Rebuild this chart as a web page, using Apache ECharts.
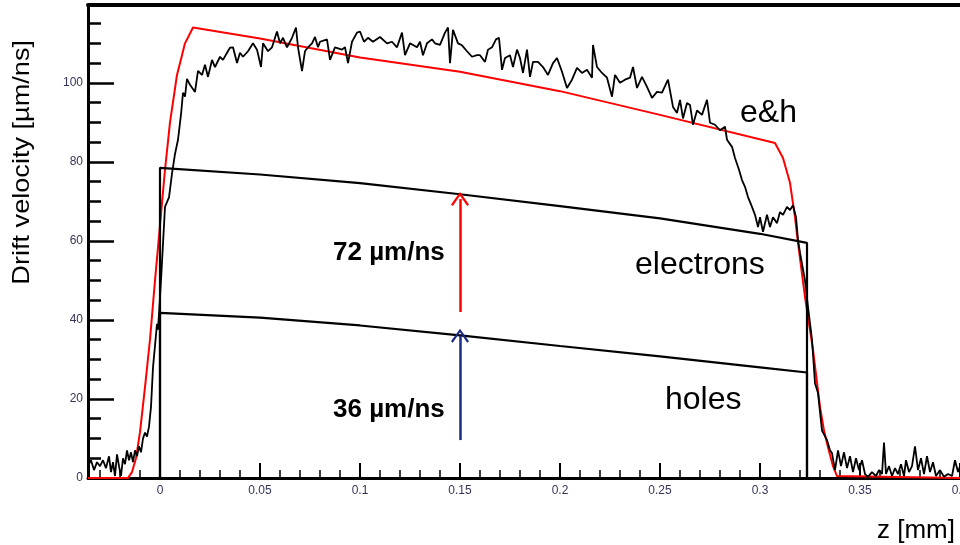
<!DOCTYPE html>
<html>
<head>
<meta charset="utf-8">
<style>
	html, body {
		margin: 0;
		padding: 0;
		background: #ffffff;
	}

	#main {
		width: 960px;
		height: 545px;
	}
</style>
</head>
<body>
<div id="main"></div>
<script src="https://cdn.jsdelivr.net/npm/echarts@6/dist/echarts.min.js"></script>
<script>
	// 测量曲线 (z [mm], drift velocity [µm/ns])
	var measZ = [
		-0.0360, -0.0345, -0.0330, -0.0315, -0.0300, -0.0285, -0.0270, -0.0255, -0.0245, -0.0235,
		-0.0225, -0.0215, -0.0205, -0.0195, -0.0185, -0.0175, -0.0165, -0.0155, -0.0145, -0.0135,
		-0.0125, -0.0115, -0.0105, -0.0095, -0.0085, -0.0075, -0.0065, -0.0055, -0.0045, -0.0035,
		-0.0015, -0.0010, 0.0005, 0.0025, 0.0045, 0.0060, 0.0075, 0.0090, 0.0105, 0.0115,
		0.0125, 0.0135, 0.0150, 0.0175, 0.0190, 0.0210, 0.0225, 0.0240, 0.0260, 0.0275,
		0.0300, 0.0315, 0.0335, 0.0350, 0.0365, 0.0385, 0.0400, 0.0415, 0.0440, 0.0465,
		0.0485, 0.0505, 0.0515, 0.0540, 0.0560, 0.0585, 0.0600, 0.0615, 0.0635, 0.0660,
		0.0680, 0.0690, 0.0710, 0.0725, 0.0740, 0.0760, 0.0775, 0.0790, 0.0800, 0.0835,
		0.0850, 0.0875, 0.0910, 0.0925, 0.0940, 0.0960, 0.0985, 0.1000, 0.1020, 0.1040,
		0.1065, 0.1100, 0.1135, 0.1160, 0.1185, 0.1210, 0.1225, 0.1250, 0.1285, 0.1300,
		0.1315, 0.1335, 0.1360, 0.1375, 0.1400, 0.1425, 0.1440, 0.1450, 0.1465, 0.1490,
		0.1510, 0.1535, 0.1560, 0.1585, 0.1600, 0.1625, 0.1640, 0.1660, 0.1680, 0.1695,
		0.1710, 0.1725, 0.1750, 0.1765, 0.1785, 0.1800, 0.1815, 0.1835, 0.1850, 0.1865,
		0.1890, 0.1915, 0.1940, 0.1965, 0.1985, 0.2010, 0.2035, 0.2060, 0.2085, 0.2110,
		0.2135, 0.2160, 0.2165, 0.2185, 0.2210, 0.2235, 0.2260, 0.2275, 0.2300, 0.2325,
		0.2350, 0.2365, 0.2385, 0.2410, 0.2435, 0.2460, 0.2485, 0.2510, 0.2540, 0.2565,
		0.2585, 0.2600, 0.2615, 0.2635, 0.2650, 0.2665, 0.2685, 0.2710, 0.2735, 0.2750,
		0.2775, 0.2800, 0.2825, 0.2835, 0.2860, 0.2875, 0.2895, 0.2910, 0.2925, 0.2940,
		0.2960, 0.2975, 0.2990, 0.3000, 0.3015, 0.3035, 0.3050, 0.3065, 0.3085, 0.3100,
		0.3115, 0.3135, 0.3150, 0.3165, 0.3180, 0.3190, 0.3200, 0.3225, 0.3240, 0.3260,
		0.3275, 0.3290, 0.3310, 0.3335, 0.3350, 0.3360, 0.3375, 0.3390, 0.3405, 0.3420,
		0.3435, 0.3450, 0.3465, 0.3480, 0.3495, 0.3510, 0.3525, 0.3540, 0.3560, 0.3580,
		0.3595, 0.3610, 0.3620, 0.3630, 0.3645, 0.3660, 0.3675, 0.3690, 0.3705, 0.3720,
		0.3730, 0.3745, 0.3760, 0.3775, 0.3790, 0.3805, 0.3820, 0.3835, 0.3850, 0.3865,
		0.3880, 0.3900, 0.3920, 0.3940, 0.3960, 0.3975, 0.3990, 0.4000
	];
	var measV = [
		3.0, 4.5, 2.0, 4.0, 3.0, 4.5, 2.5, 5.5, 1.5, 4.0,
		0.5, 6.0, 3.0, 0.5, 5.0, 3.5, 7.0, 4.5, 6.5, 4.0,
		7.0, 5.5, 8.0, 6.5, 10.0, 11.5, 10.5, 13.0, 18.0, 28.0,
		39.0, 37.5, 50.0, 68.6, 71.0, 77.0, 82.0, 85.6, 92.0, 97.5,
		96.5, 101.0, 99.5, 97.7, 103.0, 102.0, 104.6, 101.5, 105.8, 104.0,
		106.6, 105.8, 107.6, 108.9, 109.0, 105.0, 107.6, 106.6, 108.0, 110.0,
		108.4, 104.0, 110.0, 108.0, 109.0, 113.0, 110.0, 111.4, 109.0, 111.4,
		114.0, 109.0, 103.0, 108.0, 109.0, 110.0, 111.6, 109.0, 110.4, 111.0,
		105.8, 109.0, 108.4, 109.0, 105.0, 110.4, 112.7, 113.0, 110.4, 111.4,
		110.4, 111.6, 110.0, 110.4, 109.0, 112.7, 107.0, 110.0, 109.0, 110.4,
		107.0, 110.0, 111.0, 110.0, 109.6, 112.7, 114.0, 105.0, 113.4, 110.0,
		109.5, 108.0, 106.6, 107.0, 107.0, 105.3, 108.4, 109.0, 111.0, 111.4,
		103.3, 106.3, 107.0, 104.0, 108.4, 106.3, 102.5, 108.4, 101.5, 105.3,
		105.3, 104.0, 102.0, 105.0, 106.3, 102.8, 98.7, 100.8, 103.8, 102.5,
		103.3, 101.3, 109.6, 104.0, 102.5, 101.3, 96.5, 102.0, 100.0, 100.8,
		101.3, 104.0, 98.7, 101.5, 99.0, 96.2, 97.7, 97.5, 100.8, 93.9,
		92.4, 95.7, 91.0, 94.9, 94.4, 89.4, 93.0, 91.9, 95.7, 89.9,
		89.4, 88.0, 88.9, 85.6, 83.8, 81.0, 78.0, 75.4, 73.7, 71.1,
		68.6, 66.6, 63.5, 66.0, 62.3, 66.6, 63.5, 66.0, 64.5, 67.3,
		66.6, 68.6, 67.8, 69.0, 66.0, 60.2, 57.0, 50.0, 43.3, 35.0,
		24.0, 21.5, 12.0, 9.6, 7.0, 6.3, 2.0, 7.0, 3.0, 6.5,
		2.5, 5.5, 1.5, 5.0, 2.0, 4.5, 1.0, 0.3, 1.5, 0.5,
		2.0, 1.0, 9.0, 1.0, 3.0, 0.5, 2.5, 1.0, 3.5, 0.5,
		4.5, 1.5, 3.0, 8.0, 2.0, 5.0, 1.0, 5.5, 1.5, 4.0,
		0.5, 2.0, 0.3, 1.0, 0.5, 4.5, 1.5, 3.0
	];

	// 模拟 e&h (红线)
	var ehZ = [-0.036, -0.016, -0.014, -0.012, -0.010, -0.0075, -0.005, -0.0025, 0, 0.0025,
		0.005, 0.0085, 0.0125, 0.0165, 0.05, 0.1, 0.15, 0.2, 0.25, 0.3075,
		0.3115, 0.315, 0.3175, 0.319, 0.3225, 0.3265, 0.33, 0.332, 0.334, 0.3365, 0.3385, 0.339, 0.4];
	var ehV = [0, 0, 1.5, 5, 11.6, 23, 35, 50, 64, 78,
		90, 102, 110, 114, 111.2, 106.4, 102.8, 97.9, 91.9, 84.8,
		81, 74.7, 66, 59.5, 45.8, 32.4, 18, 12, 7.8, 3, 0.5, 0, 0];

	// electrons / holes
	var elecZ = [0, 0, 0.05, 0.1, 0.15, 0.2, 0.25, 0.3, 0.3235, 0.3235];
	var elecV = [0, 78.5, 76.8, 74.6, 71.8, 68.8, 65.7, 61.8, 59.5, 0];
	var holeZ = [0, 0, 0.05, 0.1, 0.15, 0.2, 0.25, 0.3, 0.3235, 0.3235];
	var holeV = [0, 41.8, 40.6, 38.6, 36.1, 33.4, 30.8, 28.0, 26.7, 0];

	// 箭头
	var arrowZ = 0.15;
	var elecArrow = [42, 70.6];
	var holeArrow = [9.6, 36];

	// 刻度
	var xTicks = [0, 0.05, 0.1, 0.15, 0.2, 0.25, 0.3, 0.35, 0.4];
	var yTicks = [0, 20, 40, 60, 80, 100];
	var xMinor = [];
	for (var i = -3; i <= 40; i++) xMinor.push(Math.round(i * 10) / 1000);
	var yMinor = [];
	for (var j = 1; j <= 23; j++) yMinor.push(j * 5);

	function pairs(xs, ys) {
		var out = [];
		for (var k = 0; k < xs.length; k++) out.push([xs[k], ys[k]]);
		return out;
	}

	var xMin = -0.036, xMax = 0.4, yMin = 0, yMax = 119.7;
	var labelFont = {
		fontFamily: '"Liberation Sans Narrow", "Liberation Sans", sans-serif',
		fontSize: 12,
		color: '#34345a'
	};
	var textFont = '"Liberation Sans", Arial, sans-serif';
	var arrowHead = 'path://M0,0 L8,11 L6.4,12.4 L0,3.2 L-6.4,12.4 L-8,11 Z';

	var myChart = echarts.init(document.getElementById('main'));

	var option = {
		animation: false,
		backgroundColor: '#ffffff',
		grid: {
			left: 88,
			right: 0,
			top: 5,
			bottom: 67,
			outerBoundsMode: 'none'
		},
		xAxis: [{
			type: 'value', min: xMin, max: xMax, position: 'bottom',
			axisLine: { show: true, onZero: false, lineStyle: { color: '#000', width: 3 } },
			axisTick: { show: true, inside: true, length: 15, customValues: xTicks, lineStyle: { color: '#000', width: 2 } },
			axisLabel: Object.assign({ show: true, margin: 7, customValues: xTicks, hideOverlap: false }, labelFont),
			splitLine: { show: false }
		}, {
			type: 'value', min: xMin, max: xMax, position: 'bottom',
			axisLine: { show: false, onZero: false },
			axisTick: { show: true, inside: true, length: 8, customValues: xMinor, lineStyle: { color: '#000', width: 1.5 } },
			axisLabel: { show: false },
			splitLine: { show: false }
		}, {
			type: 'value', min: xMin, max: xMax, position: 'top',
			axisLine: { show: true, onZero: false, lineStyle: { color: '#000', width: 4 } },
			axisTick: { show: false },
			axisLabel: { show: false },
			splitLine: { show: false }
		}],
		yAxis: [{
			type: 'value', min: yMin, max: yMax, position: 'left',
			axisLine: { show: true, onZero: false, lineStyle: { color: '#000', width: 3 } },
			axisTick: { show: true, inside: true, length: 26, customValues: yTicks, lineStyle: { color: '#000', width: 2.5 } },
			axisLabel: Object.assign({ show: true, margin: 5, customValues: yTicks }, labelFont),
			splitLine: { show: false }
		}, {
			type: 'value', min: yMin, max: yMax, position: 'left',
			axisLine: { show: false, onZero: false },
			axisTick: { show: true, inside: true, length: 13, customValues: yMinor, lineStyle: { color: '#000', width: 2.5 } },
			axisLabel: { show: false },
			splitLine: { show: false }
		}],
		series: [{
			name: 'e&h',
			type: 'line',
			data: pairs(ehZ, ehV),
			showSymbol: false,
			lineStyle: { color: '#ff0000', width: 2 },
			z: 2
		}, {
			name: 'electrons',
			type: 'line',
			data: pairs(elecZ, elecV),
			showSymbol: false,
			lineStyle: { color: '#000', width: 2.2 },
			z: 3
		}, {
			name: 'holes',
			type: 'line',
			data: pairs(holeZ, holeV),
			showSymbol: false,
			lineStyle: { color: '#000', width: 2.2 },
			z: 3
		}, {
			name: 'measured',
			type: 'line',
			data: pairs(measZ, measV),
			showSymbol: false,
			lineStyle: { color: '#000', width: 1.8 },
			z: 4,
			markLine: {
				silent: true,
				symbol: ['none', arrowHead],
				symbolSize: [18, 14],
				label: { show: false },
				data: [
					[{ coord: [arrowZ, elecArrow[0]], lineStyle: { color: '#ff0000', width: 2.5, type: 'solid' } }, { coord: [arrowZ, elecArrow[1]] }],
					[{ coord: [arrowZ, holeArrow[0]], lineStyle: { color: '#1c2a86', width: 2.5, type: 'solid' } }, { coord: [arrowZ, holeArrow[1]] }]
				]
			}
		}],
		graphic: [{
			type: 'text', left: 10, top: 40, rotation: Math.PI / 2, scaleX: 1.13,
			style: { text: 'Drift velocity [µm/ns]', font: '24px ' + textFont, fill: '#000' }
		}, {
			type: 'text', left: 877, top: 518,
			style: { text: 'z [mm]', font: '26px ' + textFont, fill: '#000' }
		}, {
			type: 'text', left: 740, top: 97,
			style: { text: 'e&h', font: '32px ' + textFont, fill: '#000' }
		}, {
			type: 'text', left: 635, top: 249,
			style: { text: 'electrons', font: '32px ' + textFont, fill: '#000' }
		}, {
			type: 'text', left: 665, top: 384,
			style: { text: 'holes', font: '32px ' + textFont, fill: '#000' }
		}, {
			type: 'text', left: 333, top: 240,
			style: { text: '72 µm/ns', font: 'bold 26px ' + textFont, fill: '#000' }
		}, {
			type: 'text', left: 333, top: 397,
			style: { text: '36 µm/ns', font: 'bold 26px ' + textFont, fill: '#000' }
		}]
	};

	myChart.setOption(option);
</script>
</body>
</html>
